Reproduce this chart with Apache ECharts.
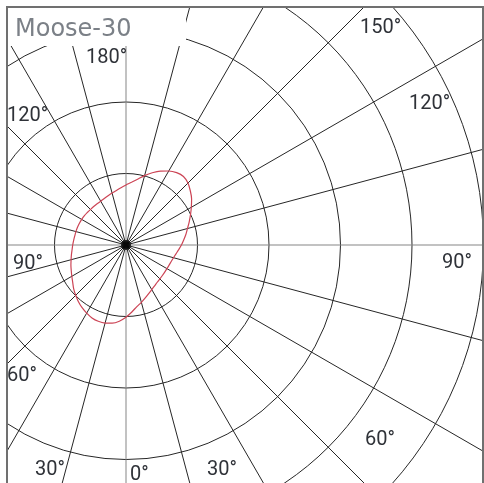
<!DOCTYPE html>
<html>
<head>
<meta charset="utf-8">
<script src="https://cdn.jsdelivr.net/npm/echarts@6/dist/echarts.min.js"></script>
<style>
html,body{margin:0;padding:0;background:#fff;}
#chart{width:484px;height:483px;}
</style>
</head>
<body>
<div id="chart"></div>
<script>
// Title
var chartTitle = 'Moose-30';
// Angle (deg, 0 = down, increasing clockwise on screen: 90 = left, 180 = up, 270 = right)
var angles = [0,5,10,15,20,25,30,35,40,45,50,55,60,65,70,75,80,85,90,95,100,105,110,115,120,125,130,135,140,145,150,155,160,165,170,175,180,185,190,195,200,205,210,215,220,225,230,235,240,245,250,255,260,265,270,275,280,285,290,295,300,305,310,315,320,325,330,335,340,345,350,355,360];
// Relative intensity (in ring units)
var intensity = [1.01,1.07,1.11,1.13,1.135,1.125,1.10,1.07,1.035,0.995,0.955,0.91,0.875,0.845,0.82,0.795,0.775,0.757,0.745,0.735,0.728,0.725,0.722,0.719,0.716,0.713,0.707,0.703,0.703,0.704,0.707,0.718,0.733,0.752,0.775,0.805,0.839,0.88,0.935,1.005,1.075,1.14,1.195,1.235,1.25,1.225,1.175,1.12,1.055,0.995,0.94,0.89,0.85,0.81,0.775,0.74,0.71,0.688,0.673,0.665,0.661,0.661,0.664,0.67,0.68,0.697,0.72,0.75,0.787,0.83,0.875,0.94,1.01];
// Degree labels placed on the diagram
var degreeLabels = ['180°','120°','150°','120°','90°','90°','60°','60°','30°','0°','30°'];
var labelPos = [[86,58],[7,116],[360,28],[409,104],[13,264],[442,263],[7,376],[365,440],[35,470],[130,475],[207,470]];

var chart = echarts.init(document.getElementById('chart'), null, {renderer:'canvas'});
var lineData = angles.map(function(a,i){ return [intensity[i], a]; });

var graphics = [
  {type:'rect', shape:{x:0,y:0,width:484,height:6}, style:{fill:'#fff'}, z:100},
  {type:'rect', shape:{x:0,y:0,width:6,height:483}, style:{fill:'#fff'}, z:100},
  {type:'rect', shape:{x:7,y:7,width:179,height:39}, style:{fill:'#fff'}, z:100},
  {type:'rect', shape:{x:7,y:7,width:476,height:480}, style:{fill:null, stroke:'#707070', lineWidth:2}, z:101},
  {type:'text', x:15, y:30, style:{text:chartTitle, fill:'#7b8087', font:'24px "DejaVu Sans"', verticalAlign:'middle', align:'left'}, z:102}
];
degreeLabels.forEach(function(t,i){
  graphics.push({type:'text', x:labelPos[i][0], y:labelPos[i][1], style:{text:t, fill:'#2f3238', font:'20px Roboto', verticalAlign:'middle', align:'left'}, z:102});
});

chart.setOption({
  animation:false,
  polar:{center:[126,245], radius:429},
  angleAxis:{
    type:'value', min:0, max:360, interval:15, startAngle:-90, clockwise:true,
    axisLine:{show:false}, axisTick:{show:false}, axisLabel:{show:false},
    splitLine:{show:true, lineStyle:{color:['#858585','#262626','#262626','#262626','#262626','#262626'], width:1}}
  },
  radiusAxis:{
    type:'value', min:0, max:6, interval:1,
    axisLine:{show:false}, axisTick:{show:false}, axisLabel:{show:false},
    splitLine:{show:true, lineStyle:{color:'#262626', width:1}}
  },
  series:[
    {type:'line', coordinateSystem:'polar', data:lineData, smooth:0.3, symbol:'none',
     lineStyle:{color:'#cc4455', width:1.2}, z:5},
    {type:'scatter', coordinateSystem:'polar', data:[[0,0]], symbolSize:10,
     itemStyle:{color:'#000'}, z:6}
  ],
  graphic:graphics
});
</script>
</body>
</html>
